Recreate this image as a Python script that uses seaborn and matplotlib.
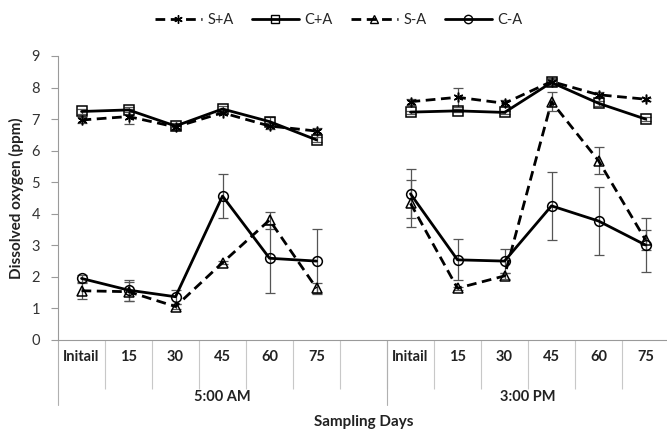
import numpy as np
import pandas as pd
import matplotlib
matplotlib.use("Agg")
import matplotlib.pyplot as plt
import matplotlib.transforms as mtransforms
from matplotlib.lines import Line2D
import seaborn as sns

# ---- data ----
days = ["Initail", "15", "30", "45", "60", "75"]
sessions = ["5:00 AM", "3:00 PM"]
series_names = ["S+A", "C+A", "S-A", "C-A"]

sa_plus_am = [6.97, 7.08, 6.75, 7.20, 6.78, 6.62]
sa_plus_pm = [7.55, 7.69, 7.50, 8.19, 7.77, 7.63]
ca_plus_am = [7.24, 7.29, 6.78, 7.32, 6.92, 6.34]
ca_plus_pm = [7.22, 7.26, 7.21, 8.16, 7.50, 7.00]
sa_minus_am = [1.56, 1.53, 1.06, 2.45, 3.80, 1.64]
sa_minus_pm = [4.33, 1.64, 2.03, 7.55, 5.68, 3.17]
ca_minus_am = [1.95, 1.58, 1.37, 4.56, 2.59, 2.50]
ca_minus_pm = [4.63, 2.54, 2.50, 4.25, 3.77, 3.01]

sa_plus_err_am = [0.10, 0.25, 0.10, 0.05, 0.10, 0.10]
sa_plus_err_pm = [0.10, 0.30, 0.10, 0.10, 0.10, 0.05]
ca_plus_err_am = [0.08, 0.08, 0.10, 0.08, 0.15, 0.08]
ca_plus_err_pm = [0.05, 0.05, 0.05, 0.10, 0.08, 0.05]
sa_minus_err_am = [0.25, 0.30, 0.08, 0.05, 0.27, 0.17]
sa_minus_err_pm = [0.74, 0.05, 0.10, 0.30, 0.42, 0.32]
ca_minus_err_am = [0.10, 0.33, 0.22, 0.70, 1.09, 1.02]
ca_minus_err_pm = [0.78, 0.65, 0.37, 1.07, 1.08, 0.85]

values = {
    "S+A": (sa_plus_am, sa_plus_pm),
    "C+A": (ca_plus_am, ca_plus_pm),
    "S-A": (sa_minus_am, sa_minus_pm),
    "C-A": (ca_minus_am, ca_minus_pm),
}
errors = {
    "S+A": (sa_plus_err_am, sa_plus_err_pm),
    "C+A": (ca_plus_err_am, ca_plus_err_pm),
    "S-A": (sa_minus_err_am, sa_minus_err_pm),
    "C-A": (ca_minus_err_am, ca_minus_err_pm),
}

# positions: 6 slots, one empty gap slot, 6 slots
n = len(days)
pos_am = list(range(n))
pos_pm = [n + 1 + i for i in range(n)]
tick_labels = days + [""] + days

rows = []
for s in series_names:
    for sess, pos, vals, errs in zip(sessions, (pos_am, pos_pm), values[s], errors[s]):
        for p, v, e in zip(pos, vals, errs):
            rows.append({"series": s, "session": sess, "pos": p, "value": v, "err": e})
df = pd.DataFrame(rows)

# ---- style ----
sns.set_theme(style="white")
plt.rcParams["font.family"] = ["Lato", "DejaVu Sans"]

fig = plt.figure(figsize=(6.67, 4.33), dpi=100)
ax = fig.add_axes([0.087, 0.2148, 0.916, 0.656])

markers = {"S+A": (6, 2, 0), "C+A": "s", "S-A": "^", "C-A": "o"}
linestyles = {"S+A": (0, (3.5, 2)), "C+A": "-", "S-A": (0, (3.5, 2)), "C-A": "-"}

# error bars
for s in series_names:
    sub = df[df.series == s]
    ax.errorbar(sub["pos"], sub["value"], yerr=sub["err"], fmt="none",
                ecolor="#555555", elinewidth=0.9, capsize=3.5, capthick=0.9, zorder=2)

for s in series_names:
    sub = df[df.series == s]
    sns.lineplot(data=sub, x="pos", y="value", units="session", estimator=None,
                 color="black", marker=markers[s], linestyle=linestyles[s],
                 linewidth=2.0, markersize=7, markerfacecolor="none",
                 markeredgecolor="black", markeredgewidth=1.1,
                 legend=False, ax=ax, zorder=3, sort=False)

ax.set_xlim(-0.5, 2 * n + 0.5)
ax.set_ylim(0, 9)
ax.set_yticks(range(0, 10))
ax.set_yticklabels([str(i) for i in range(0, 10)], fontsize=10.5, color="#333333")
ax.tick_params(axis="y", left=True, length=5, width=0.8, color="#9a9a9a", pad=8)

all_pos = list(range(2 * n + 1))
ax.set_xticks(all_pos)
ax.set_xticklabels(tick_labels, fontsize=10.5, fontweight="bold", color="#222222")
ax.tick_params(axis="x", bottom=False, length=0, pad=7)
ax.set_xticks([p - 0.5 for p in all_pos[1:]], minor=True)
ax.tick_params(axis="x", which="minor", bottom=True, length=35, width=0.8, color="#c8c8c8")

for side in ("top", "right"):
    ax.spines[side].set_visible(False)
ax.spines["left"].set_color("#9a9a9a")
ax.spines["bottom"].set_color("#9a9a9a")
ax.spines["left"].set_linewidth(0.8)
ax.spines["bottom"].set_linewidth(0.8)

# group separators and group labels
trans = mtransforms.blended_transform_factory(ax.transData, ax.transAxes)
for b in (-0.5, n + 0.5, 2 * n + 0.5):
    ax.plot([b, b], [0, -0.23], transform=trans, color="#b0b0b0", lw=0.8, clip_on=False)
group_centers = [(-0.5 + n + 0.5) / 2, (n + 0.5 + 2 * n + 0.5) / 2]
for c, lab in zip(group_centers, sessions):
    ax.text(c, -0.20, lab, transform=trans, ha="center", va="center",
            fontsize=10.5, fontweight="bold", color="#222222")

ax.set_xlabel("Sampling Days", fontsize=11, fontweight="bold", color="#222222")
ax.xaxis.set_label_coords(0.5, -0.288)
ax.xaxis.label.set_va("center")
ax.set_ylabel("Dissolved oxygen (ppm)", fontsize=11, fontweight="bold", labelpad=5, color="#222222")

# legend
handles = []
for s in series_names:
    handles.append(Line2D([0], [0], color="black", lw=2.0, linestyle=linestyles[s],
                          marker=markers[s], markersize=6, markerfacecolor="none",
                          markeredgecolor="black", markeredgewidth=1.0))
fig.legend(handles, series_names, loc="center", bbox_to_anchor=(0.508, 0.953),
           ncol=4, frameon=False, fontsize=10.5, handlelength=3.2, columnspacing=1.25,
           handletextpad=0.4)

fig.savefig("out.png", dpi=100)
